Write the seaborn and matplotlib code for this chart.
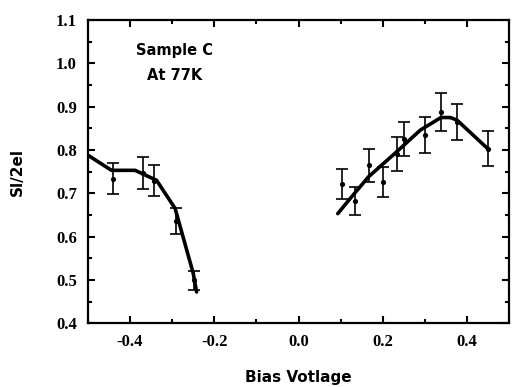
import numpy as np
import pandas as pd
import seaborn as sns
import matplotlib.pyplot as plt
from matplotlib.ticker import MultipleLocator

# measured points with error bars
neg_bias = [-0.441, -0.369, -0.343, -0.292, -0.248]
neg_si = [0.734, 0.747, 0.729, 0.636, 0.499]
neg_err = [0.036, 0.036, 0.036, 0.031, 0.022]

pos_bias = [0.104, 0.133, 0.167, 0.200, 0.233, 0.251, 0.300, 0.338, 0.376, 0.449]
pos_si = [0.721, 0.682, 0.765, 0.726, 0.790, 0.825, 0.834, 0.888, 0.864, 0.803]
pos_err = [0.035, 0.032, 0.038, 0.035, 0.039, 0.040, 0.042, 0.044, 0.042, 0.040]

# theory curves
neg_fit_x = [-0.500, -0.444, -0.388, -0.337, -0.293, -0.250, -0.242]
neg_fit_y = [0.788, 0.753, 0.753, 0.730, 0.665, 0.515, 0.472]
pos_fit_x = [0.093, 0.126, 0.166, 0.233, 0.289, 0.338, 0.360, 0.376, 0.449]
pos_fit_y = [0.653, 0.692, 0.738, 0.796, 0.846, 0.875, 0.875, 0.869, 0.803]

sns.set_style("ticks")
plt.rcParams["text.color"] = "black"
plt.rcParams["axes.labelcolor"] = "black"
plt.rcParams["xtick.color"] = "black"
plt.rcParams["ytick.color"] = "black"
plt.rcParams["axes.unicode_minus"] = False

fig = plt.figure(figsize=(5.17, 3.87), dpi=100)
ax = fig.add_axes([0.170, 0.165, 0.815, 0.783])

for fx, fy in [(neg_fit_x, neg_fit_y), (pos_fit_x, pos_fit_y)]:
    sns.lineplot(x=fx, y=fy, sort=False, color="black", linewidth=2.6, ax=ax)

for bx, by, be in [(neg_bias, neg_si, neg_err), (pos_bias, pos_si, pos_err)]:
    ax.errorbar(bx, by, yerr=be, fmt="none", ecolor="black",
                elinewidth=1.2, capsize=4, capthick=1.2)
    sns.scatterplot(x=bx, y=by, color="black", s=14, linewidth=0, ax=ax)

ax.set_xlim(-0.5, 0.5)
ax.set_ylim(0.4, 1.1)
ax.xaxis.set_major_locator(MultipleLocator(0.2))
ax.xaxis.set_minor_locator(MultipleLocator(0.1))
ax.yaxis.set_major_locator(MultipleLocator(0.1))
ax.yaxis.set_minor_locator(MultipleLocator(0.05))
ax.tick_params(which="both", direction="in", top=True, right=True,
               width=1.5, color="black")
ax.tick_params(which="major", length=5)
ax.tick_params(which="minor", length=3)
ax.tick_params(axis="both", labelsize=12, pad=8)
for lab in ax.get_xticklabels() + ax.get_yticklabels():
    lab.set_fontfamily("Liberation Serif")
    lab.set_fontweight("bold")
for sp in ax.spines.values():
    sp.set_linewidth(1.6)
    sp.set_color("black")

ax.set_xlabel("Bias Votlage", fontsize=11, fontweight="bold", labelpad=14)
ax.set_ylabel("Sl/2el", fontsize=11, fontweight="bold", labelpad=22)

ax.text(0.205, 0.9, "Sample C", transform=ax.transAxes, ha="center",
        va="center", fontsize=10.5, fontweight="bold")
ax.text(0.205, 0.818, "At 77K", transform=ax.transAxes, ha="center",
        va="center", fontsize=10.5, fontweight="bold")

fig.savefig("out.png", dpi=100)
